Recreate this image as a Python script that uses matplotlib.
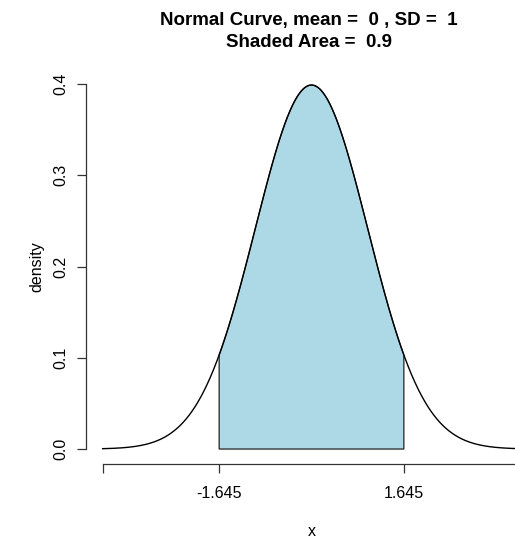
import numpy as np
import matplotlib.pyplot as plt

plt.rcParams['font.family'] = ['Liberation Sans', 'DejaVu Sans']

mean = 0
sd = 1
area = 0.9
lo, hi = -1.645, 1.645
# curve drawn between the 0.0001 and 0.9999 quantiles
x_lo, x_hi = -3.719, 3.719
yticks = [0.0, 0.1, 0.2, 0.3, 0.4]
xticks = [x_lo, lo, hi, x_hi]
xticklabels = ['', '-1.645', '1.645', '']

def dnorm(v):
    return np.exp(-0.5 * ((v - mean) / sd) ** 2) / (sd * np.sqrt(2 * np.pi))

x = np.linspace(x_lo, x_hi, 600)
y = dnorm(x)

fig = plt.figure(figsize=(5.15, 5.4), dpi=100)
ax = fig.add_axes([86 / 515, 76.4 / 540, 451 / 515, 393.1 / 540])

xs = np.linspace(lo, hi, 300)
px = np.concatenate([[lo], xs, [hi]])
py = np.concatenate([[0], dnorm(xs), [0]])
ax.fill(px, py, facecolor='#ADD8E6', edgecolor='#222222', linewidth=0.9)
ax.plot(x, y, color='black', linewidth=1.0)

rng = x_hi - x_lo
ax.set_xlim(x_lo - 0.04 * rng, x_hi + 0.04 * rng)
ymax = y.max()
ax.set_ylim(-0.04 * ymax, ymax * 1.04)

ax.spines['top'].set_visible(False)
ax.spines['right'].set_visible(False)
ax.spines['left'].set_bounds(0, 0.4)
ax.spines['bottom'].set_bounds(x_lo, x_hi)
for s in ['left', 'bottom']:
    ax.spines[s].set_color('#333333')
    ax.spines[s].set_linewidth(0.9)

ax.set_xticks(xticks)
ax.set_xticklabels(xticklabels)
ax.set_yticks(yticks)
ax.set_yticklabels(['%.1f' % t for t in yticks], rotation=90, va='center')
ax.tick_params(axis='x', length=6.5, width=0.9, color='#333333',
               labelsize=11.5, pad=9.5)
ax.tick_params(axis='y', length=6.5, width=0.9, color='#333333',
               labelsize=11.5, pad=6)

ax.set_xlabel('x', fontsize=11.5, labelpad=17)
ax.set_ylabel('density', fontsize=11.5, labelpad=7)
ax.set_title('Normal Curve, mean =  %d , SD =  %d\nShaded Area =  %s' % (mean, sd, area),
             fontsize=13.5, fontweight='bold', x=(309 - 86) / 451, pad=17,
             linespacing=1.35)

fig.savefig('out.png', dpi=100)
